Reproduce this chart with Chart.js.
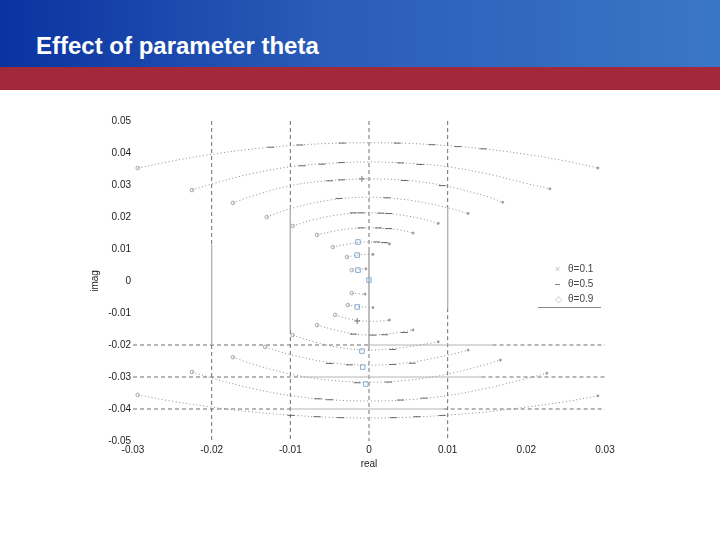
<!DOCTYPE html>
<html>
<head>
<meta charset="utf-8">
<script src="https://cdn.jsdelivr.net/npm/chart.js@4.4.0/dist/chart.umd.min.js"></script>
<style>
  html, body { margin: 0; padding: 0; background: #fff; }
  #page { position: relative; width: 720px; height: 540px; overflow: hidden; font-family: "Liberation Sans", Arial, sans-serif; }
  #header { position: absolute; left: 0; top: 0; width: 720px; height: 67px;
    background: linear-gradient(to right, #0a33a0 0%, #2a5cb8 45%, #3a76c6 100%); }
  #band { position: absolute; left: 0; top: 67px; width: 720px; height: 23px; background: #a2283a; }
  #title { position: absolute; left: 36px; top: 32px; color: #fff; font-weight: bold; font-size: 24px; line-height: 28px; white-space: nowrap; }
  #chartBox { position: absolute; left: 0; top: 90px; width: 720px; height: 450px; }
  #legend { position: absolute; left: 538px; top: 261px; width: 63px; font-size: 10px; color: #444; }
  .lg { position: relative; height: 15px; line-height: 15px; }
  .lg span.t { position: absolute; left: 30px; }
  .lg span.m { position: absolute; left: 17px; top: 0; }
  #legendLine { position: absolute; left: 538px; top: 307px; width: 63px; height: 1px; background: #888; }
</style>
</head>
<body>
<div id="page">
  <div id="header"></div>
  <div id="band"></div>
  <div id="title">Effect of parameter theta</div>
  <div id="chartBox"><canvas id="c" width="720" height="450"></canvas></div>
  <div id="legend"></div>
  <div id="legendLine"></div>
</div>
<script>
// ---------------- data ----------------
const seriesLabels = ["θ=0.1", "θ=0.5", "θ=0.9"];
const xTickLabels = ["-0.03", "-0.02", "-0.01", "0", "0.01", "0.02", "0.03"];
const yTickLabels = ["-0.05", "-0.04", "-0.03", "-0.02", "-0.01", "0", "0.01", "0.02", "0.03", "0.04", "0.05"];

// upper loci (real, imag)
const upperArcs = [
  [[-0.0294,0.0353],[-0.025,0.0375],[-0.02,0.0396],[-0.015,0.0412],[-0.01,0.0423],[-0.005,0.0430],[0,0.0432],[0.005,0.0430],[0.01,0.0423],[0.015,0.0412],[0.02,0.0396],[0.025,0.0375],[0.0291,0.0353]],
  [[-0.0225,0.0284],[-0.02,0.0303],[-0.015,0.0335],[-0.01,0.0357],[-0.005,0.0368],[0,0.0372],[0.005,0.0368],[0.01,0.0357],[0.015,0.0335],[0.02,0.0305],[0.023,0.0288]],
  [[-0.0173,0.0244],[-0.015,0.0264],[-0.01,0.0298],[-0.005,0.0314],[0,0.0319],[0.005,0.0314],[0.01,0.0296],[0.015,0.0264],[0.017,0.0246]],
  [[-0.013,0.0200],[-0.01,0.0226],[-0.005,0.0253],[0,0.0262],[0.005,0.0253],[0.01,0.0229],[0.0126,0.0211]],
  [[-0.0097,0.0172],[-0.007,0.0192],[-0.0035,0.0208],[0,0.0213],[0.0035,0.0208],[0.007,0.0193],[0.0088,0.0180]],
  [[-0.0066,0.0144],[-0.004,0.0158],[-0.002,0.0164],[0,0.0166],[0.002,0.0164],[0.004,0.0159],[0.0056,0.0150]],
  [[-0.0046,0.0106],[-0.003,0.0114],[-0.0015,0.0120],[0,0.0122],[0.0015,0.0120],[0.0026,0.0116]],
  [[-0.0028,0.0075],[-0.0015,0.0081],[0,0.0084],[0.0005,0.0083]],
  [[-0.0022,0.0034],[-0.0012,0.0037],[-0.0004,0.0038]]
];
// lower loci (real, imag)
const lowerArcs = [
  [[-0.0294,-0.0356],[-0.025,-0.0376],[-0.02,-0.0394],[-0.015,-0.0409],[-0.01,-0.0419],[-0.005,-0.0426],[0,-0.0428],[0.005,-0.0426],[0.01,-0.0419],[0.015,-0.0409],[0.02,-0.0394],[0.025,-0.0377],[0.0291,-0.0359]],
  [[-0.0225,-0.0284],[-0.02,-0.0303],[-0.015,-0.0335],[-0.01,-0.0358],[-0.005,-0.0371],[0,-0.0375],[0.005,-0.0371],[0.01,-0.0358],[0.015,-0.0335],[0.02,-0.0305],[0.0226,-0.0288]],
  [[-0.0173,-0.0238],[-0.015,-0.0258],[-0.01,-0.0291],[-0.005,-0.0310],[0,-0.0316],[0.005,-0.0310],[0.01,-0.0291],[0.015,-0.0260],[0.0167,-0.0247]],
  [[-0.0132,-0.0206],[-0.01,-0.0230],[-0.005,-0.0255],[0,-0.0263],[0.005,-0.0255],[0.01,-0.0232],[0.0126,-0.0216]],
  [[-0.0097,-0.0169],[-0.007,-0.0190],[-0.0035,-0.0209],[0,-0.0216],[0.0035,-0.0210],[0.007,-0.0198],[0.0088,-0.0190]],
  [[-0.0066,-0.0138],[-0.004,-0.0155],[-0.002,-0.0165],[0,-0.0169],[0.002,-0.0166],[0.004,-0.0160],[0.0056,-0.0153]],
  [[-0.0043,-0.0106],[-0.003,-0.0116],[-0.0015,-0.0123],[0,-0.0126],[0.0015,-0.0125],[0.0026,-0.0122]],
  [[-0.0027,-0.0075],[-0.0013,-0.0080],[0,-0.0082],[0.0005,-0.0083]],
  [[-0.0022,-0.0038],[-0.0012,-0.0040],[-0.0005,-0.0041]]
];
// theta = 0.5 dash markers
const dashMarks = [
  [-0.0125,0.0418],[-0.0088,0.0425],[-0.0034,0.0431],[0.0036,0.0431],[0.0080,0.0426],[0.0113,0.0420],[0.0145,0.0413],
  [-0.0085,0.0360],[-0.0060,0.0365],[-0.0035,0.0370],[0.0040,0.0369],[0.0065,0.0364],
  [-0.0050,0.0313],[-0.0035,0.0316],[0.0045,0.0314],[0.0093,0.0298],
  [-0.0038,0.0258],[0.0023,0.0260],
  [-0.0020,0.0213],[-0.0010,0.0213],[0.0015,0.0212],[0.0025,0.0211],
  [-0.0010,0.0166],[0.0012,0.0166],[0.0025,0.0164],
  [0.0010,0.0122],[0.0020,0.0120],
  [-0.0099,-0.0420],[-0.0066,-0.0424],[-0.0036,-0.0427],[0.0031,-0.0427],[0.0061,-0.0424],[0.0093,-0.0420],
  [-0.0065,-0.0368],[-0.0050,-0.0371],[0.0040,-0.0372],[0.0070,-0.0366],
  [-0.0015,-0.0318],[0.0025,-0.0316],
  [-0.0050,-0.0258],[-0.0025,-0.0262],[0.0030,-0.0261],[0.0055,-0.0257],
  [0.0030,-0.0214],
  [-0.0020,-0.0166],[0.0005,-0.0169],[0.0020,-0.0168],[0.0045,-0.0161]
];
// pole markers
const poleSquares = [[-0.0014,0.0122],[-0.0015,0.0081],[-0.0014,0.0034],[0.0,0.0003],[-0.0015,-0.0081],[-0.0009,-0.0219],[-0.0008,-0.0269],[-0.0004,-0.0322]];
const crossMarks = [[-0.0009,0.0319],[-0.0015,-0.0125]];
// reference lines
const solidGrid = [
  [[-0.02,0.0113],[-0.02,-0.02]],
  [[-0.01,0.0231],[-0.01,-0.0153]],
  [[0,0.0106],[0,-0.0206]],
  [[0.01,0.0231],[0.01,-0.0085]],
  [[0,-0.02],[0.0157,-0.02]],
  [[-0.0088,-0.03],[0.0143,-0.03]],
  [[-0.01,-0.04],[0.0095,-0.04]]
];
const dashedGrid = [
  [[-0.02,0.05],[-0.02,0.0113]], [[-0.02,-0.02],[-0.02,-0.05]],
  [[-0.01,0.05],[-0.01,0.0231]], [[-0.01,-0.0153],[-0.01,-0.05]],
  [[0,0.05],[0,0.0106]], [[0,-0.0206],[0,-0.05]],
  [[0.01,0.05],[0.01,0.0231]], [[0.01,-0.0085],[0.01,-0.05]],
  [[-0.03,-0.02],[0,-0.02]], [[0.0157,-0.02],[0.03,-0.02]],
  [[-0.03,-0.03],[-0.0088,-0.03]], [[0.0143,-0.03],[0.03,-0.03]],
  [[-0.03,-0.04],[-0.01,-0.04]], [[0.0095,-0.04],[0.03,-0.04]]
];

// ---------------- helpers ----------------
function flatten(groups) {
  const out = [];
  groups.forEach((g, i) => {
    if (i > 0) out.push({ x: g[0][0], y: null });
    g.forEach(p => out.push({ x: p[0], y: p[1] }));
  });
  return out;
}
const pts = arr => arr.map(p => ({ x: p[0], y: p[1] }));
const allArcs = upperArcs.concat(lowerArcs);
const arcEnds = allArcs.map(a => a[0]);
const arcRightEnds = allArcs.map(a => a[a.length - 1]);
const labelFor = (labels, v) => {
  const key = Number(v.toFixed(2)).toString();
  return labels.find(l => Number(l).toString() === key) ?? key;
};

// ---------------- legend (HTML) ----------------
const legendMarks = [
  '<span style="color:#bbb;font-size:9px">×</span>',
  '<span style="display:inline-block;width:5px;height:1px;background:#888;vertical-align:middle"></span>',
  '<span style="color:#bbb;font-size:9px">◇</span>'
];
document.getElementById('legend').innerHTML = seriesLabels.map((l, i) =>
  '<div class="lg"><span class="m">' + legendMarks[i] + '</span><span class="t">' + l + '</span></div>').join('');

// ---------------- chart ----------------
new Chart(document.getElementById('c'), {
  type: 'scatter',
  data: {
    datasets: [
      { label: 'poles', data: pts(poleSquares), pointStyle: 'rect', pointRadius: 3.2,
        borderColor: '#86acd0', backgroundColor: 'rgba(0,0,0,0)', borderWidth: 1, showLine: false },
      { label: 'cross', data: pts(crossMarks), pointStyle: 'cross', pointRadius: 3,
        borderColor: '#777', borderWidth: 1, showLine: false },
      { label: seriesLabels[1], data: pts(dashMarks), pointStyle: 'line', pointRadius: 3.5,
        borderColor: '#6a6a6a', borderWidth: 1, showLine: false },
      { label: seriesLabels[0], data: pts(arcEnds), pointStyle: 'circle', pointRadius: 1.8,
        borderColor: '#aaa', backgroundColor: 'rgba(0,0,0,0)', borderWidth: 1, showLine: false },
      { label: seriesLabels[2], data: pts(arcRightEnds), pointStyle: 'circle', pointRadius: 1,
        borderColor: '#999', backgroundColor: '#999', borderWidth: 1, showLine: false },
      { label: 'loci', data: flatten(allArcs), showLine: true, spanGaps: false, tension: 0.35,
        borderColor: '#8a8a8a', borderWidth: 1, borderDash: [1, 2.5], pointRadius: 0 },
      { label: 'refSolid', data: flatten(solidGrid), showLine: true, spanGaps: false,
        borderColor: '#b4b4b4', borderWidth: 1, pointRadius: 0 },
      { label: 'refDashed', data: flatten(dashedGrid), showLine: true, spanGaps: false,
        borderColor: '#6e6e6e', borderWidth: 1, borderDash: [4, 3], pointRadius: 0 }
    ]
  },
  options: {
    responsive: false,
    animation: false,
    events: [],
    layout: { padding: { left: 85, right: 115, top: 31, bottom: 68 } },
    plugins: { legend: { display: false }, tooltip: { enabled: false } },
    scales: {
      x: {
        type: 'linear', min: -0.03, max: 0.03,
        grid: { display: false, drawTicks: false }, border: { display: false },
        ticks: { stepSize: 0.01, padding: 3, color: '#222', font: { family: 'Liberation Sans', size: 10 },
          callback: v => labelFor(xTickLabels, v) },
        title: { display: true, text: 'real', color: '#222', padding: { top: 2, bottom: 2 },
          font: { family: 'Liberation Sans', size: 10 } },
        afterFit: s => { s.height = 31; }
      },
      y: {
        type: 'linear', min: -0.05, max: 0.05,
        grid: { display: false, drawTicks: false }, border: { display: false },
        ticks: { stepSize: 0.01, padding: 2, color: '#222', font: { family: 'Liberation Sans', size: 10 },
          callback: v => labelFor(yTickLabels, v) },
        title: { display: true, text: 'imag', color: '#222', padding: { top: 4, bottom: 2 },
          font: { family: 'Liberation Sans', size: 10 } },
        afterFit: s => { s.width = 48; }
      }
    }
  }
});
</script>
</body>
</html>
